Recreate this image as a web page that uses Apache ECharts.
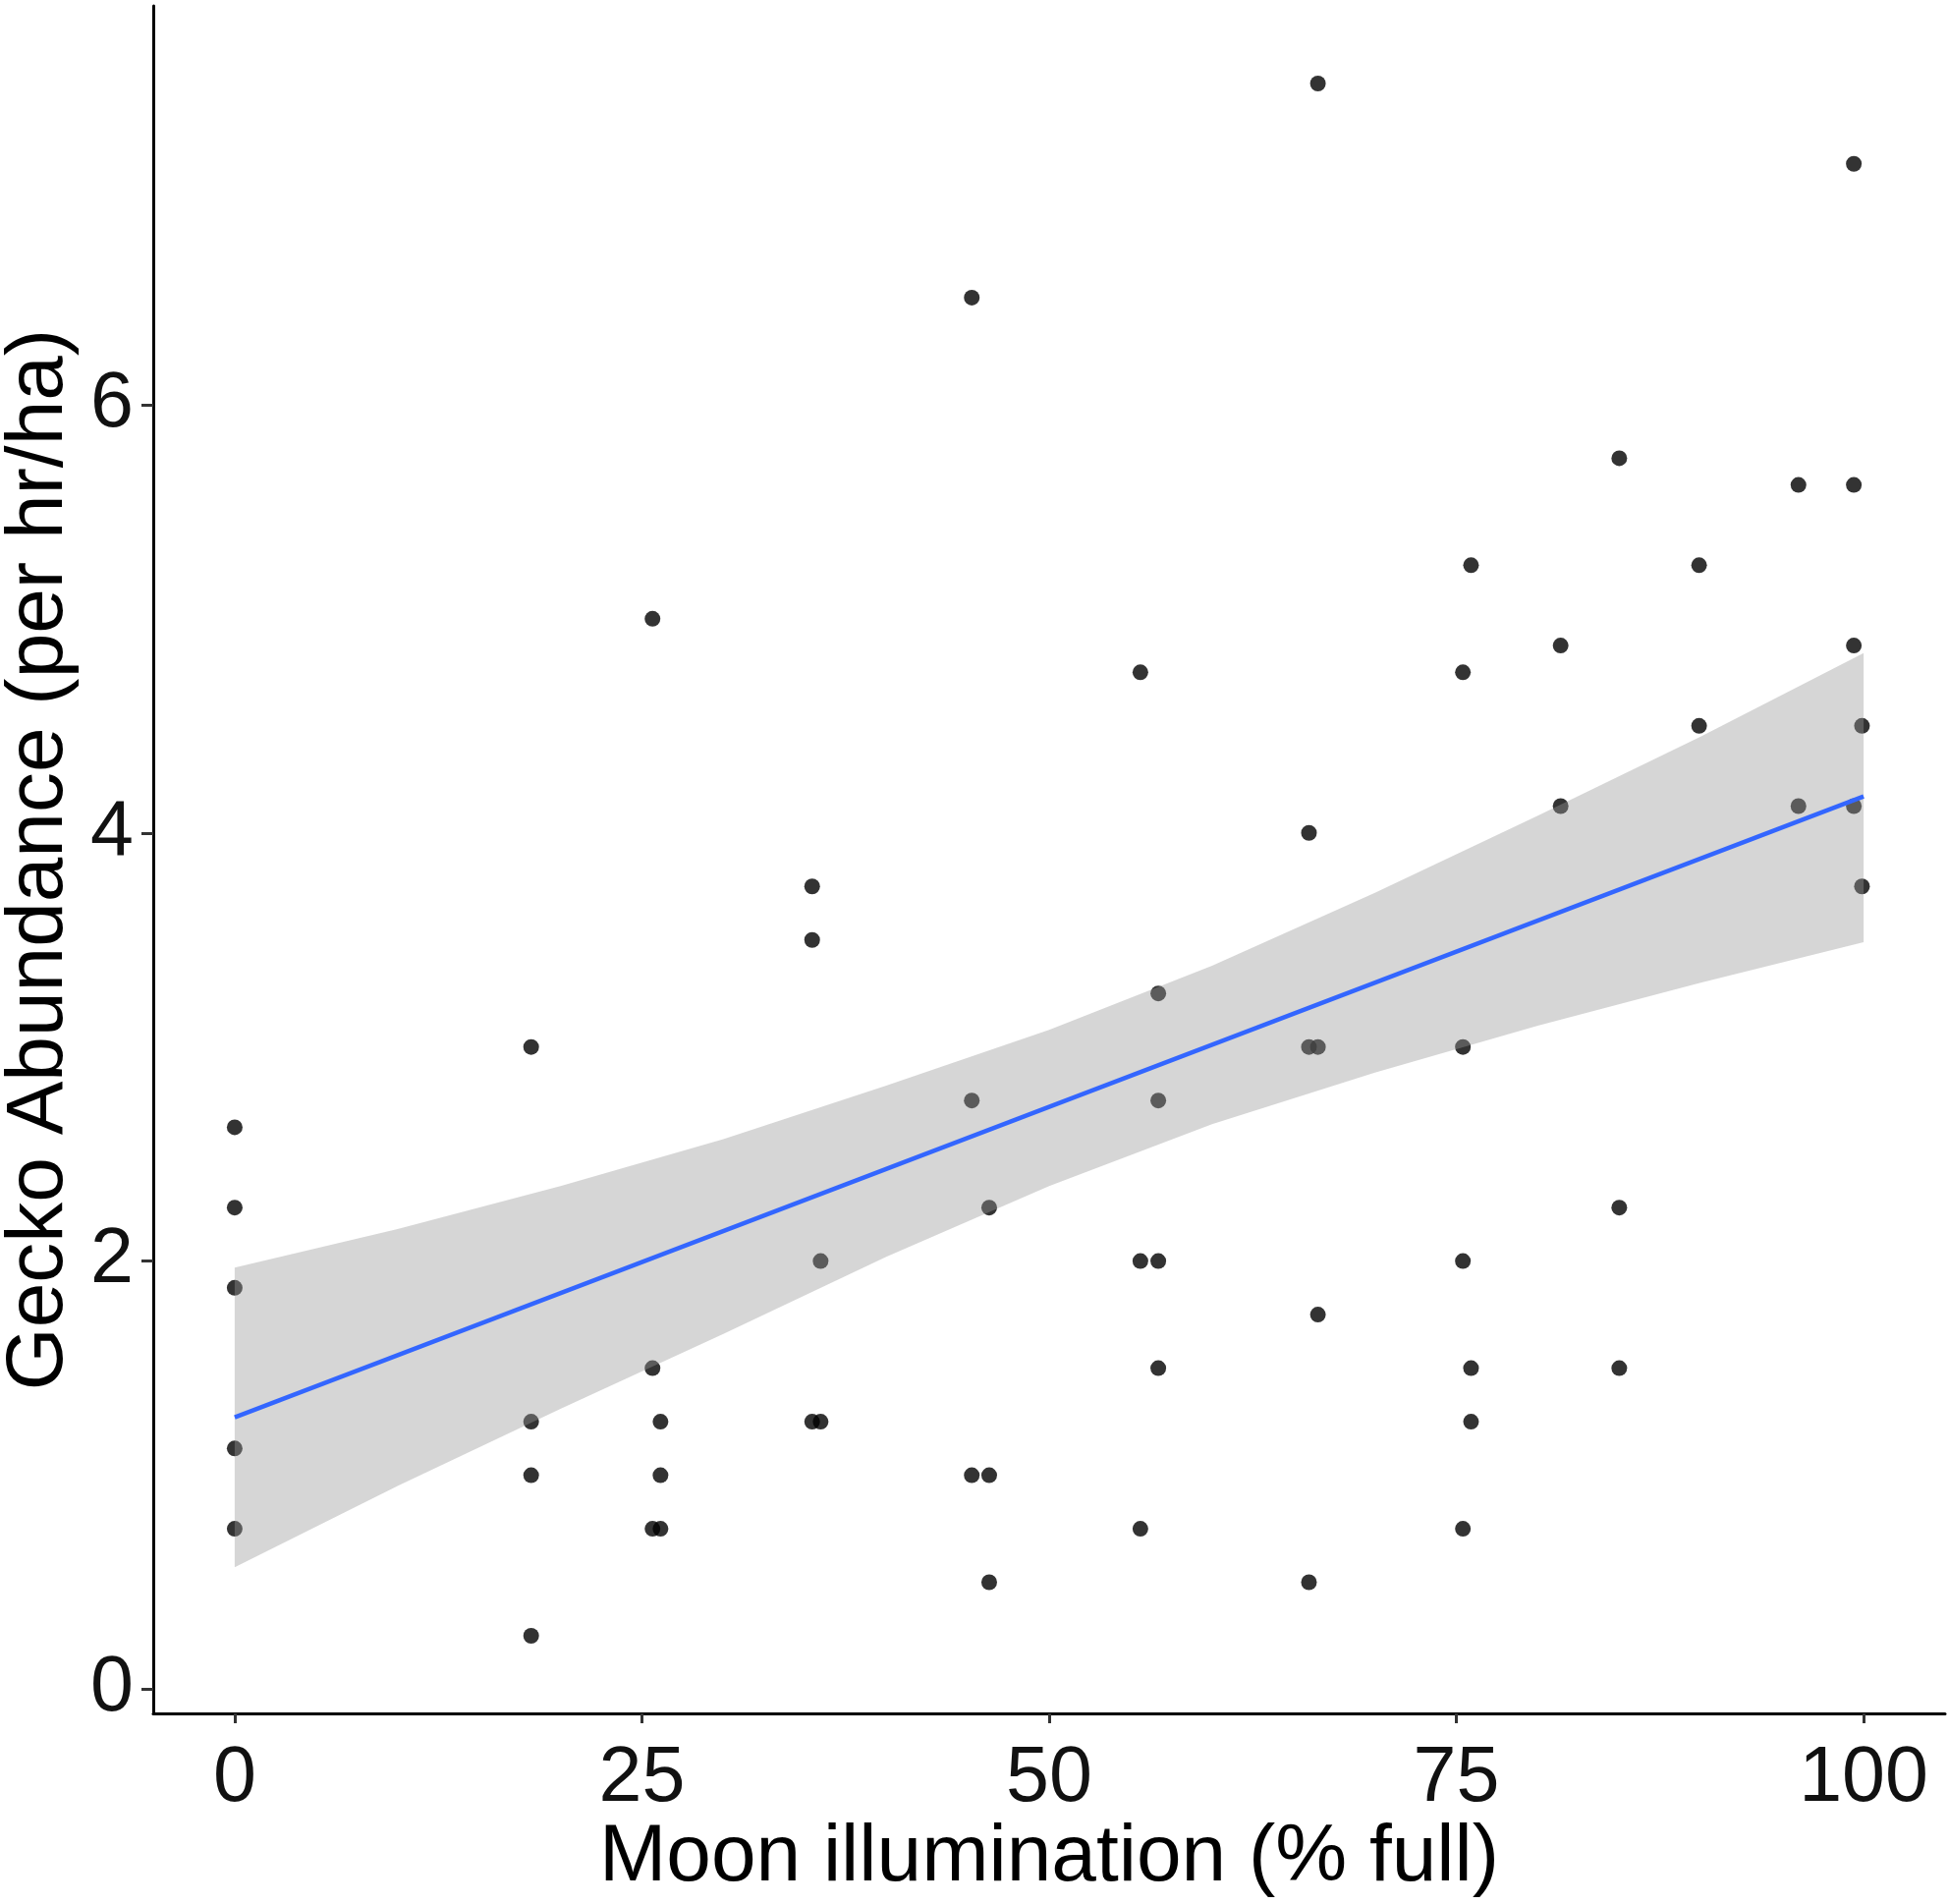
<!DOCTYPE html>
<html>
<head>
<meta charset="utf-8">
<script src="https://cdn.jsdelivr.net/npm/echarts@6/dist/echarts.min.js"></script>
<style>
html,body{margin:0;padding:0;background:#fff;}
#chart{width:1983px;height:1938px;}
</style>
</head>
<body>
<div id="chart"></div>
<script>
// Observations: moon illumination (% full) and gecko abundance (per hr/ha)
const moonIllum = [
  0, 0, 0, 0, 0,
  18.2, 18.2, 18.2, 18.2,
  25.65, 25.65, 25.65,
  26.14, 26.14, 26.14,
  35.45, 35.45, 35.45,
  35.97, 35.97,
  45.25, 45.25, 45.25,
  46.32, 46.32, 46.32,
  55.6, 55.6, 55.6,
  56.7, 56.7, 56.7, 56.7,
  65.95, 65.95, 65.95,
  66.5, 66.5, 66.5,
  75.4, 75.4, 75.4, 75.4,
  75.9, 75.9, 75.9,
  81.4, 81.4,
  85.0, 85.0, 85.0,
  89.9, 89.9,
  96.0, 96.0,
  99.4, 99.4, 99.4, 99.4,
  99.9, 99.9
];
const geckoAbund = [
  2.625, 2.25, 1.875, 1.125, 0.75,
  3.0, 1.25, 1.0, 0.25,
  5.0, 1.5, 0.75,
  1.25, 1.0, 0.75,
  3.75, 3.5, 1.25,
  2.0, 1.25,
  6.5, 2.75, 1.0,
  2.25, 1.0, 0.5,
  4.75, 2.0, 0.75,
  3.25, 2.75, 2.0, 1.5,
  4.0, 3.0, 0.5,
  7.5, 3.0, 1.75,
  4.75, 3.0, 2.0, 0.75,
  5.25, 1.5, 1.25,
  4.875, 4.125,
  5.75, 2.25, 1.5,
  5.25, 4.5,
  5.625, 4.125,
  7.125, 5.625, 4.875, 4.125,
  4.5, 3.75
];
// Fitted line and confidence band
const fitX = [0, 100];
const fitY = [1.27, 4.17];
const bandX     = [0,    10,   20,   30,   40,   50,   60,   70,   80,   90,   100];
const bandUpper = [1.97, 2.15, 2.35, 2.57, 2.82, 3.08, 3.38, 3.72, 4.08, 4.45, 4.84];
const bandLower = [0.57, 0.95, 1.31, 1.66, 2.02, 2.35, 2.64, 2.88, 3.10, 3.30, 3.49];
// Tick labels
const xTicks = [0, 25, 50, 75, 100];
const yTicks = [0, 2, 4, 6];

const FONT = "'Liberation Sans', Arial, sans-serif";

const points = moonIllum.map((x, i) => [x, geckoAbund[i]]);
const fitData = fitX.map((x, i) => [x, fitY[i]]);

const chart = echarts.init(document.getElementById('chart'), null, {renderer: 'canvas'});
chart.setOption({
  animation: false,
  backgroundColor: '#ffffff',
  grid: {left: 156, right: 3, top: 6, bottom: 194, containLabel: false, outerBoundsMode: 'none'},
  xAxis: {
    type: 'value', min: -5, max: 105,
    name: 'Moon illumination (% full)', nameLocation: 'middle', nameGap: 106,
    nameMoveOverlap: false,
    nameTextStyle: {fontSize: 82, color: '#000', fontFamily: FONT},
    axisLine: {show: true, onZero: false, lineStyle: {color: '#000', width: 3}},
    axisTick: {show: true, length: 10, customValues: xTicks, lineStyle: {color: '#333', width: 3}},
    axisLabel: {show: true, customValues: xTicks, fontSize: 79, color: '#111', margin: 28, fontFamily: FONT},
    splitLine: {show: false}
  },
  yAxis: {
    type: 'value', min: -0.1125, max: 7.8625,
    name: 'Gecko Abundance (per hr/ha)', nameLocation: 'middle', nameGap: 64,
    nameTextStyle: {fontSize: 82, color: '#000', fontFamily: FONT},
    axisLine: {show: true, onZero: false, lineStyle: {color: '#000', width: 3}},
    axisTick: {show: true, length: 12, customValues: yTicks, lineStyle: {color: '#333', width: 3}},
    axisLabel: {show: true, customValues: yTicks, fontSize: 79, color: '#111', margin: 20, fontFamily: FONT},
    splitLine: {show: false}
  },
  series: [
    {
      type: 'scatter', data: points, symbol: 'circle', symbolSize: 16,
      itemStyle: {color: '#000'}, z: 1, silent: true
    },
    {
      type: 'custom', z: 2, silent: true, clip: true,
      data: [[0, 0]],
      renderItem: function (params, api) {
        const pts = [];
        for (let i = 0; i < bandX.length; i++) pts.push(api.coord([bandX[i], bandUpper[i]]));
        for (let i = bandX.length - 1; i >= 0; i--) pts.push(api.coord([bandX[i], bandLower[i]]));
        return {
          type: 'polygon',
          shape: {points: pts},
          style: {fill: 'rgba(153,153,153,0.4)', stroke: null}
        };
      }
    },
    {
      type: 'line', data: fitData, symbol: 'none',
      lineStyle: {color: '#3366FF', width: 4.5}, z: 3, silent: true
    }
  ]
});
</script>
</body>
</html>
